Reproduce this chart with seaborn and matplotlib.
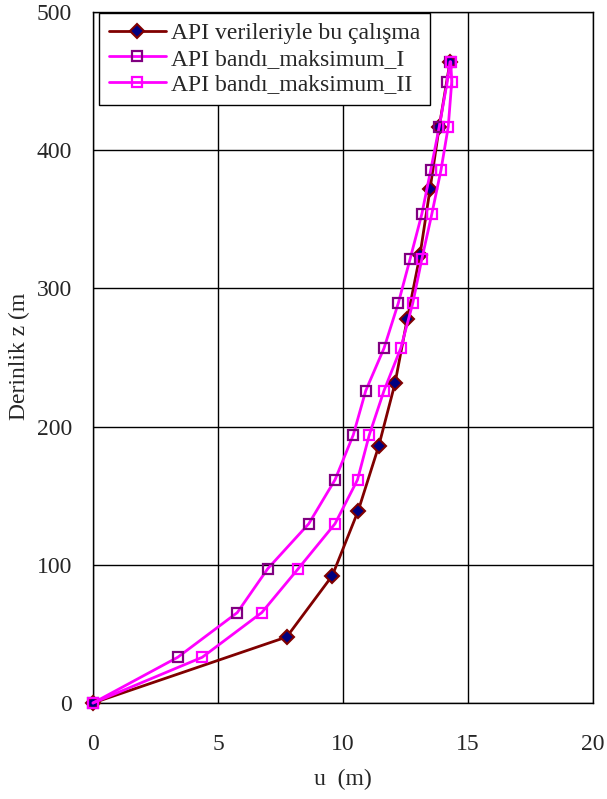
import numpy as np
import pandas as pd
import matplotlib
matplotlib.use("Agg")
import matplotlib.pyplot as plt
import seaborn as sns

# veriler
z_api = [0, 47.8, 92.1, 139.2, 186, 231.3, 277.9, 324.2, 371.7, 417, 464]
u_api = [0, 7.75, 9.57, 10.61, 11.43, 12.08, 12.57, 13.08, 13.48, 13.85, 14.28]

z_band = [0, 33.1, 65.4, 97.2, 129.7, 161.5, 193.9, 226, 256.7, 289.2,
          321, 353.6, 385.7, 417, 449.6, 464]
u_max1 = [0, 3.39, 5.77, 6.99, 8.63, 9.68, 10.41, 10.91, 11.64, 12.21,
          12.68, 13.15, 13.51, 13.85, 14.17, 14.28]
u_max2 = [0, 4.37, 6.75, 8.21, 9.68, 10.58, 11.05, 11.64, 12.31, 12.79,
          13.15, 13.55, 13.92, 14.21, 14.35, 14.31]

labels = ["API verileriyle bu çalışma", "API bandı_maksimum_I", "API bandı_maksimum_II"]
x_ticks = [0, 5, 10, 15, 20]
y_ticks = [0, 100, 200, 300, 400, 500]

sns.set_style("white")
plt.rcParams["font.family"] = ["Liberation Serif", "DejaVu Serif"]
fs = 17

fig = plt.figure(figsize=(6.07, 7.99), dpi=100)
ax = fig.add_axes([93 / 607, 1 - 703 / 799, 500 / 607, 691 / 799])

df1 = pd.DataFrame({"u": u_api, "z": z_api})
df2 = pd.DataFrame({"u": u_max1, "z": z_band})
df3 = pd.DataFrame({"u": u_max2, "z": z_band})

sns.lineplot(data=df1, x="u", y="z", sort=False, estimator=None, ax=ax,
             color="#800000", linewidth=2, marker="D", markersize=6.8,
             markerfacecolor="#000080", markeredgecolor="#800000",
             markeredgewidth=1.5, label=labels[0], clip_on=False, zorder=3)
sns.lineplot(data=df2, x="u", y="z", sort=False, estimator=None, ax=ax,
             color="#FF00FF", linewidth=2, marker="s", markersize=7.5,
             markerfacecolor="none", markeredgecolor="#800080",
             markeredgewidth=1.6, label=labels[1], clip_on=False, zorder=4)
sns.lineplot(data=df3, x="u", y="z", sort=False, estimator=None, ax=ax,
             color="#FF00FF", linewidth=2, marker="s", markersize=7.5,
             markerfacecolor="none", markeredgecolor="#FF00FF",
             markeredgewidth=1.6, label=labels[2], clip_on=False, zorder=5)

ax.set_xlim(0, 20)
ax.set_ylim(0, 500)
ax.set_xticks(x_ticks)
ax.set_yticks(y_ticks)
ax.grid(True, color="black", linewidth=1)
ax.set_axisbelow(True)
for s in ax.spines.values():
    s.set_color("black")
    s.set_linewidth(1)

ax.tick_params(axis="x", length=0, pad=22, labelsize=fs)
ax.tick_params(axis="y", length=0, pad=15, labelsize=fs)
ax.set_xlabel("u  (m)", fontsize=fs, labelpad=10)
ax.set_ylabel("Derinlik z (m", fontsize=fs)
ax.yaxis.set_label_coords(-0.126, 0.502)

leg = ax.legend(loc="upper left", bbox_to_anchor=(0.012, 0.9986),
                borderaxespad=0, fontsize=fs, frameon=True, fancybox=False,
                framealpha=1, edgecolor="black", handlelength=2.4,
                handletextpad=0.22, labelspacing=0.16, borderpad=0.42)
leg.get_frame().set_linewidth(1)

fig.savefig("out.png", dpi=100)
